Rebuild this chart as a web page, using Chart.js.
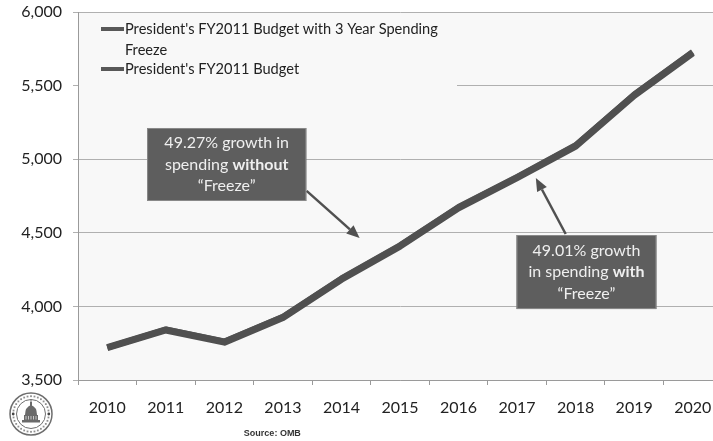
<!DOCTYPE html>
<html>
<head>
<meta charset="utf-8">
<script src="https://cdn.jsdelivr.net/npm/chart.js@4/dist/chart.umd.min.js"></script>
<style>
  html, body { margin: 0; padding: 0; overflow: hidden; background: #fff; width: 713px; height: 441px; }
  canvas { display: block; }
</style>
</head>
<body>
<canvas id="c" width="724" height="441"></canvas>
<script>
// Federal outlays, billions of dollars
const years = ['2010', '2011', '2012', '2013', '2014', '2015', '2016', '2017', '2018', '2019', '2020'];
const budgetWithFreeze = [3720, 3840, 3757, 3924, 4184, 4409, 4669, 4874, 5089, 5434, 5722];
const budget = [3720, 3843, 3762, 3930, 4190, 4415, 4675, 4880, 5095, 5440, 5728];
const seriesNames = ["President's FY2011 Budget with 3 Year Spending Freeze", "President's FY2011 Budget"];
const yTicks = [3500, 4000, 4500, 5000, 5500, 6000];

// Callout texts: each line is a list of [text, bold] runs
const calloutWithout = [
  [['49.27% growth in', false]],
  [['spending ', false], ['without', true]],
  [['\u201CFreeze\u201D', false]]
];
const calloutWith = [
  [['49.01% growth', false]],
  [['in spending ', false], ['with', true]],
  [['\u201CFreeze\u201D', false]]
];
const sourceNote = 'Source: OMB';

const FONT = 'Lato, "Open Sans", sans-serif';
const LINE_GREY = '#585858';

const plotBackground = {
  id: 'plotBackground',
  beforeDraw(chart) {
    const { ctx, chartArea: a } = chart;
    ctx.save();
    ctx.fillStyle = '#f8f8f8';
    ctx.fillRect(a.left, a.top, a.right - a.left, a.bottom - a.top);
    ctx.restore();
  }
};

// Legend drawn inside the plot, wrapping the long label onto two lines
const insideLegend = {
  id: 'insideLegend',
  beforeDatasetsDraw(chart) {
    const { ctx, chartArea: a } = chart;
    ctx.save();
    ctx.fillStyle = '#f8f8f8';
    ctx.fillRect(a.left + 1, a.top + 1, 378, 77);
    ctx.font = '14.6px ' + FONT;
    ctx.textBaseline = 'middle';
    const x0 = a.left + 23, lineLen = 23, textX = x0 + lineLen + 1, maxW = 330;
    let y = a.top + 17;
    chart.data.datasets.forEach(ds => {
      ctx.fillStyle = LINE_GREY;
      ctx.fillRect(x0, y - 2, lineLen, 4);
      // wrap label by measured width
      const words = ds.label.split(' ');
      const lines = [];
      let cur = '';
      words.forEach(w => {
        const t = cur ? cur + ' ' + w : w;
        if (ctx.measureText(t).width > maxW && cur) { lines.push(cur); cur = w; } else { cur = t; }
      });
      lines.push(cur);
      ctx.fillStyle = '#222';
      lines.forEach((ln, i) => ctx.fillText(ln, textX, y + i * 21));
      y += lines.length * 20;
    });
    ctx.restore();
  }
};

function drawRichLine(ctx, runs, cx, y) {
  let total = 0;
  runs.forEach(([t, b]) => {
    ctx.font = (b ? 'bold ' : '') + '16px ' + FONT;
    total += ctx.measureText(t).width;
  });
  let x = cx - total / 2;
  runs.forEach(([t, b]) => {
    ctx.font = (b ? 'bold ' : '') + '16px ' + FONT;
    ctx.fillText(t, x, y);
    x += ctx.measureText(t).width;
  });
}

function drawArrow(ctx, x1, y1, x2, y2) {
  const ang = Math.atan2(y2 - y1, x2 - x1);
  const head = 13, half = 5.5;
  const bx = x2 - head * Math.cos(ang), by = y2 - head * Math.sin(ang);
  ctx.strokeStyle = '#505050';
  ctx.lineWidth = 2.5;
  ctx.beginPath();
  ctx.moveTo(x1, y1);
  ctx.lineTo(bx, by);
  ctx.stroke();
  ctx.fillStyle = '#505050';
  ctx.beginPath();
  ctx.moveTo(x2, y2);
  ctx.lineTo(bx + half * Math.sin(ang), by - half * Math.cos(ang));
  ctx.lineTo(bx - half * Math.sin(ang), by + half * Math.cos(ang));
  ctx.closePath();
  ctx.fill();
}

// Callout boxes placed in data space (category index, value)
const callouts = {
  id: 'callouts',
  afterDatasetsDraw(chart) {
    const { ctx } = chart;
    const xs = chart.scales.x, ys = chart.scales.y;
    const boxes = [
      { lines: calloutWithout, i0: 0.68, i1: 3.40, v0: 5212, v1: 4716,
        arrow: [3.405, 4785, 4.31, 4465] },
      { lines: calloutWith, i0: 6.99, i1: 9.38, v0: 4485, v1: 3982,
        arrow: [7.83, 4492, 7.32, 4872] }
    ];
    ctx.save();
    boxes.forEach(b => {
      const l = xs.getPixelForValue(b.i0), r = xs.getPixelForValue(b.i1);
      const t = ys.getPixelForValue(b.v0), bt = ys.getPixelForValue(b.v1);
      drawArrow(ctx, xs.getPixelForValue(b.arrow[0]), ys.getPixelForValue(b.arrow[1]),
                xs.getPixelForValue(b.arrow[2]), ys.getPixelForValue(b.arrow[3]));
      ctx.fillStyle = '#5e5e5e';
      ctx.fillRect(l, t, r - l, bt - t);
      ctx.strokeStyle = '#8a8a8a';
      ctx.lineWidth = 1;
      ctx.strokeRect(l + 0.5, t + 0.5, r - l - 1, bt - t - 1);
      ctx.fillStyle = '#efefef';
      ctx.textBaseline = 'middle';
      const cx = (l + r) / 2, step = 21.5;
      const y0 = (t + bt) / 2 - step;
      b.lines.forEach((runs, k) => drawRichLine(ctx, runs, cx, y0 + k * step));
    });
    ctx.restore();
  }
};

// Committee seal and source line below the chart
const footer = {
  id: 'footer',
  afterDraw(chart) {
    const { ctx } = chart;
    ctx.save();
    const cx = 31, cy = 414;
    ctx.strokeStyle = '#6e6e6e';
    ctx.lineWidth = 1.5;
    ctx.beginPath(); ctx.arc(cx, cy, 21, 0, Math.PI * 2); ctx.stroke();
    ctx.lineWidth = 1;
    ctx.beginPath(); ctx.arc(cx, cy, 14.5, 0, Math.PI * 2); ctx.stroke();
    // ring lettering suggestion
    ctx.fillStyle = '#8f8f8f';
    for (let k = 0; k < 32; k++) {
      const a = k / 32 * Math.PI * 2;
      if (Math.abs(a - Math.PI) < 0.15 || Math.abs(a) < 0.15 || Math.abs(a - Math.PI * 2) < 0.15) continue;
      ctx.fillRect(cx + 17.8 * Math.cos(a) - 0.9, cy + 17.8 * Math.sin(a) - 0.9, 1.8, 1.8);
    }
    ctx.fillStyle = '#444';
    ctx.beginPath(); ctx.arc(cx - 17.8, cy, 1.4, 0, Math.PI * 2); ctx.fill();
    ctx.beginPath(); ctx.arc(cx + 17.8, cy, 1.4, 0, Math.PI * 2); ctx.fill();
    // capitol dome
    ctx.fillStyle = '#6a6a6a';
    ctx.fillRect(cx - 9, cy + 6, 18, 2.5);
    ctx.fillRect(cx - 7, cy + 1, 14, 5);
    ctx.fillStyle = '#c8c8c8';
    for (let k = -5; k <= 5; k += 2.5) ctx.fillRect(cx + k - 0.5, cy + 2, 1, 3.5);
    ctx.fillStyle = '#6a6a6a';
    ctx.beginPath();
    ctx.moveTo(cx - 6, cy + 1);
    ctx.quadraticCurveTo(cx - 6, cy - 7, cx, cy - 9);
    ctx.quadraticCurveTo(cx + 6, cy - 7, cx + 6, cy + 1);
    ctx.closePath();
    ctx.fill();
    ctx.fillRect(cx - 1, cy - 12, 2, 4);
    ctx.fillRect(cx - 0.5, cy - 14, 1, 2);
    ctx.fillStyle = '#333';
    ctx.font = 'bold 9px "Liberation Sans", Arial, sans-serif';
    ctx.textAlign = 'center';
    ctx.textBaseline = 'middle';
    ctx.fillText(sourceNote, chart.scales.x.getPixelForValue(2.82), 434);
    ctx.restore();
  }
};

new Chart(document.getElementById('c'), {
  type: 'line',
  data: {
    labels: years,
    datasets: [
      { label: seriesNames[0], data: budgetWithFreeze, borderColor: '#505050', borderWidth: 7,
        pointRadius: 0, tension: 0, borderJoinStyle: 'round', borderCapStyle: 'butt' },
      { label: seriesNames[1], data: budget, borderColor: LINE_GREY, borderWidth: 6,
        pointRadius: 0, tension: 0, borderJoinStyle: 'round', borderCapStyle: 'butt' }
    ]
  },
  options: {
    responsive: false,
    animation: false,
    layout: { padding: { top: 12, right: 2, left: 0, bottom: 0 } },
    plugins: { legend: { display: false }, tooltip: { enabled: false } },
    scales: {
      x: {
        offset: true,
        grid: { offset: true, drawOnChartArea: false, drawTicks: true, tickLength: 5, color: '#9a9a9a' },
        border: { color: '#9a9a9a', width: 1 },
        ticks: { font: { family: FONT, size: 16 }, color: '#222', padding: 13, maxRotation: 0 },
        afterFit(s) { s.height = 61; s.paddingLeft = 0; s.paddingRight = 0; }
      },
      y: {
        min: 3500, max: 6000,
        afterBuildTicks(s) { s.ticks = yTicks.map(v => ({ value: v })); },
        grid: { color: '#b0b0b0', tickLength: 5 },
        border: { color: '#9a9a9a', width: 1 },
        ticks: {
          font: { family: FONT, size: 16 }, color: '#222', padding: 11,
          callback: v => v.toLocaleString('en-US')
        },
        afterFit(s) { s.width = 78; s.paddingTop = 0; s.paddingBottom = 0; }
      }
    }
  },
  plugins: [plotBackground, insideLegend, callouts, footer]
});
</script>
</body>
</html>
